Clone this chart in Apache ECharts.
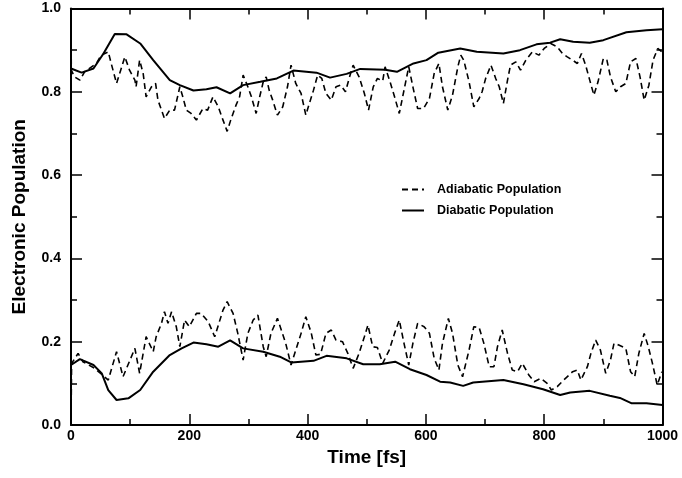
<!DOCTYPE html>
<html>
<head>
<meta charset="utf-8">
<script src="https://cdn.jsdelivr.net/npm/echarts@6/dist/echarts.min.js"></script>
<style>
  html, body { margin: 0; padding: 0; background: #fff; }
  #chart { width: 682px; height: 478px; }
</style>
</head>
<body>
<div id="chart"></div>
<script>
// diabatic population (solid lines)
const diaUpT = [0, 18, 38, 55, 74, 94, 117, 139, 167, 184, 207, 229, 246, 269, 291, 320, 348, 376, 415, 438, 466, 489, 531, 551, 579, 601, 621, 658, 686, 731, 759, 787, 810, 827, 849, 877, 900, 939, 973, 1000]
const diaUpV = [0.856, 0.846, 0.856, 0.892, 0.939, 0.938, 0.916, 0.876, 0.828, 0.816, 0.803, 0.806, 0.811, 0.796, 0.816, 0.824, 0.832, 0.851, 0.846, 0.834, 0.843, 0.855, 0.853, 0.848, 0.868, 0.876, 0.894, 0.904, 0.896, 0.892, 0.9, 0.914, 0.918, 0.926, 0.92, 0.918, 0.924, 0.943, 0.948, 0.95]
const diaLowT = [0, 15, 38, 52, 63, 77, 97, 117, 139, 167, 187, 207, 229, 249, 269, 291, 325, 353, 373, 410, 432, 466, 494, 522, 548, 573, 601, 624, 641, 663, 680, 731, 765, 798, 827, 844, 877, 911, 928, 948, 973, 1000]
const diaLowV = [0.144, 0.158, 0.144, 0.124, 0.084, 0.06, 0.064, 0.084, 0.128, 0.168, 0.184, 0.198, 0.194, 0.188, 0.203, 0.184, 0.176, 0.164, 0.15, 0.154, 0.166, 0.16, 0.146, 0.146, 0.152, 0.134, 0.12, 0.104, 0.102, 0.094, 0.102, 0.108, 0.098, 0.086, 0.072, 0.078, 0.082, 0.07, 0.065, 0.052, 0.052, 0.048]

// adiabatic population (dashed lines)
const adiUpT = [0, 0.5, 6, 15, 23, 43, 51, 63, 68, 77, 84, 91, 99, 108, 110, 116, 122, 127, 136, 143, 147, 153, 158, 167, 175, 184, 189, 195, 203, 212, 223, 231, 240, 249, 257, 264, 270, 279, 285, 291, 299, 305, 313, 319, 325, 330, 335, 341, 349, 358, 366, 372, 380, 389, 397, 403, 410, 417, 424, 431, 440, 448, 456, 464, 471, 477, 487, 496, 503, 511, 518, 527, 531, 539, 547, 555, 563, 571, 578, 586, 596, 606, 614, 622, 628, 637, 645, 654, 659, 664, 673, 681, 690, 695, 701, 710, 718, 724, 731, 738, 743, 752, 760, 769, 780, 791, 800, 811, 822, 831, 839, 848, 856, 863, 870, 877, 884, 891, 900, 906, 912, 921, 929, 938, 946, 955, 962, 969, 977, 984, 992, 999]
const adiUpV = [1.0, 0.852, 0.836, 0.828, 0.848, 0.868, 0.888, 0.896, 0.868, 0.82, 0.852, 0.884, 0.852, 0.828, 0.812, 0.876, 0.844, 0.788, 0.812, 0.82, 0.78, 0.756, 0.736, 0.756, 0.756, 0.812, 0.788, 0.756, 0.748, 0.732, 0.76, 0.756, 0.788, 0.764, 0.732, 0.705, 0.732, 0.768, 0.788, 0.84, 0.812, 0.788, 0.748, 0.788, 0.824, 0.836, 0.804, 0.78, 0.744, 0.764, 0.812, 0.864, 0.82, 0.796, 0.744, 0.772, 0.804, 0.84, 0.832, 0.796, 0.78, 0.812, 0.816, 0.8, 0.836, 0.864, 0.836, 0.796, 0.756, 0.812, 0.832, 0.826, 0.86, 0.826, 0.788, 0.748, 0.804, 0.86, 0.812, 0.76, 0.76, 0.784, 0.844, 0.868, 0.812, 0.756, 0.792, 0.86, 0.888, 0.876, 0.824, 0.764, 0.784, 0.8, 0.832, 0.864, 0.832, 0.812, 0.772, 0.828, 0.864, 0.872, 0.852, 0.876, 0.896, 0.888, 0.904, 0.916, 0.908, 0.892, 0.884, 0.876, 0.868, 0.892, 0.864, 0.828, 0.792, 0.824, 0.88, 0.876, 0.836, 0.8, 0.812, 0.82, 0.872, 0.88, 0.836, 0.78, 0.816, 0.876, 0.904, 0.896]
const adiLowT = [0, 1, 3, 12, 20, 40, 63, 77, 88, 108, 116, 127, 139, 144, 153, 158, 164, 170, 178, 184, 192, 200, 212, 220, 232, 243, 257, 264, 274, 282, 291, 299, 308, 316, 325, 330, 338, 349, 352, 363, 372, 380, 389, 397, 406, 414, 422, 431, 440, 448, 459, 468, 477, 487, 496, 502, 510, 518, 527, 538, 547, 555, 563, 571, 578, 586, 597, 606, 614, 622, 628, 638, 645, 654, 662, 673, 681, 690, 698, 707, 715, 721, 729, 738, 746, 755, 763, 774, 783, 794, 805, 812, 822, 833, 848, 856, 862, 873, 879, 887, 895, 904, 912, 918, 926, 938, 946, 953, 960, 969, 976, 983, 991, 999]
const adiLowV = [0.0, 0.145, 0.152, 0.172, 0.152, 0.136, 0.108, 0.176, 0.116, 0.184, 0.124, 0.212, 0.176, 0.212, 0.244, 0.272, 0.244, 0.272, 0.236, 0.188, 0.252, 0.236, 0.268, 0.268, 0.248, 0.212, 0.276, 0.296, 0.268, 0.22, 0.156, 0.22, 0.252, 0.264, 0.188, 0.164, 0.22, 0.256, 0.256, 0.196, 0.144, 0.18, 0.22, 0.26, 0.222, 0.168, 0.17, 0.22, 0.228, 0.204, 0.2, 0.172, 0.136, 0.172, 0.212, 0.24, 0.188, 0.186, 0.148, 0.18, 0.22, 0.252, 0.196, 0.144, 0.196, 0.244, 0.236, 0.22, 0.16, 0.132, 0.196, 0.256, 0.22, 0.144, 0.116, 0.18, 0.236, 0.234, 0.196, 0.14, 0.14, 0.188, 0.228, 0.172, 0.132, 0.128, 0.148, 0.12, 0.104, 0.112, 0.1, 0.084, 0.092, 0.108, 0.128, 0.132, 0.108, 0.14, 0.172, 0.204, 0.18, 0.124, 0.156, 0.196, 0.192, 0.184, 0.128, 0.116, 0.172, 0.22, 0.188, 0.148, 0.096, 0.128]

const pairs = (ts, vs) => ts.map((t, i) => [t, vs[i]])

const chart = echarts.init(document.getElementById('chart'))
const fontFamily = '"Liberation Sans", Arial, sans-serif'

// fresh style objects for every axis
const frame = () => ({
  splitLine: { show: false },
  axisLine: { show: true, onZero: false, lineStyle: { color: '#000', width: 2 } },
  axisTick: { show: true, inside: true, length: 11, lineStyle: { color: '#000', width: 1.5 } },
  minorTick: { show: true, splitNumber: 2, length: 6, lineStyle: { color: '#000', width: 1.5 } }
})
const labelStyle = (margin, formatter) => ({
  fontFamily, fontWeight: 'bold', fontSize: 14, color: '#000', margin, formatter
})
const titleStyle = () => ({ fontFamily, fontWeight: 'bold', fontSize: 19, color: '#000' })

const dashed = { color: '#000', width: 1.6, type: [6, 4] }
const solid = { color: '#000', width: 2, type: 'solid' }

chart.setOption({
  animation: false,
  backgroundColor: '#fff',
  grid: { left: 71, right: 19.5, top: 8.5, bottom: 53 },
  legend: {
    orient: 'vertical',
    left: 396,
    top: 178,
    itemWidth: 22,
    itemHeight: 10,
    itemGap: 8,
    itemStyle: { opacity: 0 },
    data: ['Adiabatic Population', 'Diabatic Population'],
    textStyle: { fontFamily, fontWeight: 'bold', fontSize: 12.5, color: '#000', padding: [0, 0, 0, 8] }
  },
  xAxis: [
    Object.assign(frame(), {
      type: 'value', min: 0, max: 1000, interval: 200,
      name: 'Time [fs]', nameLocation: 'middle', nameGap: 22, nameTextStyle: titleStyle(),
      axisLabel: labelStyle(4, v => String(v))
    }),
    Object.assign(frame(), {
      type: 'value', min: 0, max: 1000, interval: 200, position: 'top',
      axisLabel: { show: false }
    })
  ],
  yAxis: [
    Object.assign(frame(), {
      type: 'value', min: 0, max: 1, interval: 0.2,
      name: 'Electronic Population', nameLocation: 'middle', nameGap: 42, nameTextStyle: titleStyle(),
      axisLabel: labelStyle(10, v => v.toFixed(1))
    }),
    Object.assign(frame(), {
      type: 'value', min: 0, max: 1, interval: 0.2, position: 'right',
      axisLabel: { show: false }
    })
  ],
  series: [
    { name: 'Adiabatic Population', type: 'line', data: pairs(adiUpT, adiUpV), symbol: 'none', lineStyle: dashed, itemStyle: { color: '#000' } },
    { name: 'Adiabatic Population', type: 'line', data: pairs(adiLowT, adiLowV), symbol: 'none', lineStyle: dashed, itemStyle: { color: '#000' } },
    { name: 'Diabatic Population', type: 'line', data: pairs(diaUpT, diaUpV), symbol: 'none', lineStyle: solid, itemStyle: { color: '#000' } },
    { name: 'Diabatic Population', type: 'line', data: pairs(diaLowT, diaLowV), symbol: 'none', lineStyle: solid, itemStyle: { color: '#000' } }
  ]
})
</script>
</body>
</html>
